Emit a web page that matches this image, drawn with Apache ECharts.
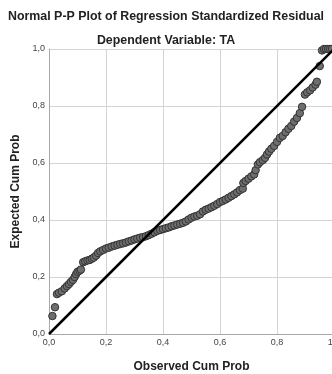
<!DOCTYPE html>
<html>
<head>
<meta charset="utf-8">
<script src="https://cdn.jsdelivr.net/npm/echarts@6/dist/echarts.min.js"></script>
<style>html,body{margin:0;padding:0;background:#fff;}#c{width:332px;height:374px;}</style>
</head>
<body>
<div id="c"></div>
<script>
const titleText = "Normal P-P Plot of Regression Standardized Residual";
const subtitleText = "Dependent Variable: TA";
const xName = "Observed Cum Prob";
const yName = "Expected Cum Prob";
const observed = [0.012,0.021,0.028,0.035,0.045,0.055,0.063,0.07,0.077,0.084,0.09,0.095,0.1,0.107,0.112,0.12,0.127,0.135,0.143,0.15,0.157,0.165,0.172,0.18,0.19,0.2,0.21,0.22,0.23,0.24,0.25,0.26,0.27,0.28,0.29,0.3,0.31,0.32,0.33,0.34,0.35,0.36,0.37,0.38,0.39,0.4,0.41,0.42,0.43,0.44,0.45,0.46,0.47,0.48,0.49,0.5,0.51,0.52,0.53,0.54,0.55,0.56,0.57,0.58,0.59,0.6,0.61,0.62,0.63,0.64,0.65,0.66,0.67,0.68,0.682,0.69,0.7,0.71,0.72,0.725,0.733,0.74,0.75,0.758,0.765,0.772,0.78,0.79,0.8,0.81,0.82,0.83,0.84,0.85,0.86,0.87,0.88,0.888,0.898,0.906,0.916,0.925,0.935,0.94,0.95,0.958,0.965,0.972,0.979,0.986,0.993];
const expected = [0.063,0.094,0.14,0.145,0.15,0.16,0.168,0.175,0.183,0.19,0.2,0.21,0.218,0.222,0.226,0.252,0.255,0.258,0.26,0.264,0.268,0.275,0.284,0.29,0.295,0.3,0.303,0.307,0.31,0.313,0.316,0.318,0.321,0.325,0.328,0.332,0.335,0.338,0.34,0.343,0.347,0.352,0.357,0.362,0.365,0.368,0.371,0.374,0.378,0.381,0.384,0.387,0.39,0.395,0.402,0.408,0.412,0.415,0.42,0.43,0.436,0.44,0.445,0.45,0.456,0.463,0.467,0.472,0.478,0.484,0.49,0.497,0.505,0.51,0.53,0.537,0.545,0.553,0.56,0.575,0.595,0.603,0.61,0.618,0.63,0.64,0.65,0.66,0.674,0.688,0.695,0.708,0.72,0.73,0.745,0.758,0.775,0.797,0.84,0.848,0.855,0.865,0.875,0.885,0.94,0.995,1.0,1.0,1.0,1.0,1.0];
const diagonal = [[0,0],[1,1]];
const tickFmt = v => v.toFixed(1).replace('.', ',');

const chart = echarts.init(document.getElementById('c'), null, {renderer:'canvas'});
const font = 'Liberation Sans, Arial, sans-serif';
chart.setOption({
  animation:false,
  backgroundColor:'#fff',
  title:[
    {text:titleText, left:'center', top:6, textStyle:{fontFamily:font,fontSize:12.4,fontWeight:'bold',color:'#222'}},
    {text:subtitleText, left:'center', top:30, textStyle:{fontFamily:font,fontSize:12.4,fontWeight:'bold',color:'#222'}}
  ],
  grid:{left:49, top:49, width:285, height:285, containLabel:false, outerBoundsMode:'none'},
  xAxis:{type:'value', min:0, max:1, interval:0.2, name:xName, nameLocation:'middle', nameGap:27,
    nameTextStyle:{fontFamily:font,fontSize:12,fontWeight:'bold',color:'#222'},
    axisLine:{show:true,lineStyle:{color:'#a8a8a8',width:1}}, axisTick:{show:false},
    axisLabel:{formatter:tickFmt, fontFamily:font, fontSize:9, color:'#444', margin:4, showMaxLabel:true},
    splitLine:{show:true,lineStyle:{color:'#d4d4d4',width:1}}},
  yAxis:{type:'value', min:0, max:1, interval:0.2, name:yName, nameLocation:'middle', nameGap:25,
    nameTextStyle:{fontFamily:font,fontSize:12,fontWeight:'bold',color:'#222'},
    axisLine:{show:true,lineStyle:{color:'#a8a8a8',width:1}}, axisTick:{show:false},
    axisLabel:{formatter:tickFmt, fontFamily:font, fontSize:9, color:'#444', margin:4},
    splitLine:{show:true,lineStyle:{color:'#d4d4d4',width:1}}},
  series:[
    {type:'scatter', data:observed.map((x,i)=>[x,expected[i]]), symbolSize:7.5, clip:false,
      itemStyle:{color:'#6e6e6e', borderColor:'#333', borderWidth:1, opacity:1}, z:2},
    {type:'line', data:diagonal, symbol:'none', clip:false, lineStyle:{color:'#000',width:2.5}, z:3}
  ]
});
</script>
</body>
</html>
